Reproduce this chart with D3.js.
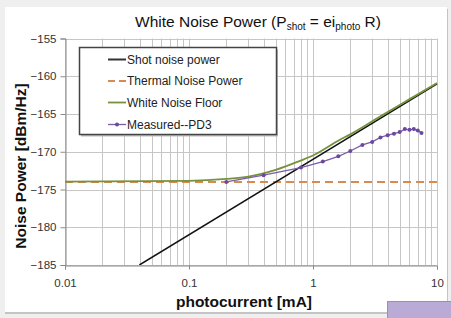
<!DOCTYPE html>
<html>
<head>
<meta charset="utf-8">
<script src="https://cdn.jsdelivr.net/npm/d3@7"></script>
<style>
  body { margin: 0; background: #efefef; }
  svg { display: block; font-family: "Liberation Sans", Arial, sans-serif; }
</style>
</head>
<body>
<svg id="chart" width="451" height="318"></svg>
<script>
// data (current in mA, power in dBm/Hz)
var shotCurrent = [0.0398, 10];
var shotPower = [-185, -161];

var thermalCurrent = [0.01, 10];
var thermalPower = [-174, -174];

var floorCurrent = [0.01, 0.1, 0.2, 0.3, 0.5, 0.786, 1.0, 1.65, 2.0, 3.47, 5, 7, 10];
var floorPower = [-173.95, -173.85, -173.6, -173.3, -172.4, -171.2, -170.5, -168.4, -167.7, -165.35, -163.8, -162.4, -160.9];

var measCurrent = [0.2, 0.4, 0.8, 1.2, 1.6, 2.0, 2.5, 3.0, 3.5, 4.0, 4.5, 5.0, 5.5, 6.0, 6.5, 7.0, 7.5];
var measPower = [-174.0, -173.1, -172.1, -171.3, -170.6, -169.9, -169.1, -168.7, -168.1, -167.8, -167.6, -167.4, -167.0, -167.1, -167.0, -167.2, -167.5];

var yTicks = [-155, -160, -165, -170, -175, -180, -185];
var xTicks = [0.01, 0.1, 1, 10];
var legendNames = ["Shot noise power", "Thermal Noise Power", "White Noise Floor", "Measured--PD3"];

// layout (plot area)
var PLEFT = 65, PRIGHT = 437, PTOP = 38.5, PBOTTOM = 265;
var svg = d3.select("#chart");

// white panel + shadow
svg.append("rect").attr("x", 5).attr("y", 9).attr("width", 443).attr("height", 305).style("fill", "#c4c4c4");
svg.append("rect").attr("x", 5).attr("y", 7).attr("width", 442).attr("height", 305).style("fill", "white");

// purple box at bottom right
svg.append("rect").attr("x", 387.5).attr("y", 301.5).attr("width", 70).attr("height", 30)
  .style("fill", "#b9aad6").style("stroke", "#7b98cf").style("stroke-width", 1);

var x = d3.scaleLog().domain([0.01, 10]).range([PLEFT, PRIGHT]);
var y = d3.scaleLinear().domain([-185, -155]).range([PBOTTOM, PTOP]);

// grid
var minor = [];
[0.01, 0.1, 1].forEach(function(d){
  for (var k = 1; k < 10; k++) minor.push(d * k);
});
minor.push(10);

svg.append("g").selectAll("line").data(minor).enter().append("line")
  .attr("x1", function(d){ return Math.round(x(d)) + 0.5; })
  .attr("x2", function(d){ return Math.round(x(d)) + 0.5; })
  .attr("y1", PTOP).attr("y2", PBOTTOM)
  .style("stroke", "#c6c6c6").style("stroke-width", 1);

svg.append("g").selectAll("line").data(yTicks).enter().append("line")
  .attr("x1", PLEFT).attr("x2", PRIGHT)
  .attr("y1", function(d){ return Math.round(y(d)) + 0.5; })
  .attr("y2", function(d){ return Math.round(y(d)) + 0.5; })
  .style("stroke", "#c6c6c6").style("stroke-width", 1);

// axes
var yAxis = svg.append("g").attr("transform", "translate(" + (PLEFT + 0.5) + ",0)")
  .call(d3.axisLeft(y).tickValues(yTicks).tickSize(5).tickPadding(4).tickFormat(d3.format("d")));
var xAxis = svg.append("g").attr("transform", "translate(0," + (PBOTTOM + 0.5) + ")")
  .call(d3.axisBottom(x).tickValues(xTicks).tickSize(4).tickPadding(9).tickFormat(function(d){ return String(d); }));

[yAxis, xAxis].forEach(function(a){
  a.select(".domain").style("stroke", "#8a8a8a");
  a.selectAll(".tick line").style("stroke", "#8a8a8a");
  a.selectAll("text").style("font-size", "11.5px").style("fill", "#333")
    .style("font-family", "'Liberation Sans', Arial, sans-serif");
});

// clip
svg.append("clipPath").attr("id", "plotclip").append("rect")
  .attr("x", PLEFT).attr("y", PTOP - 2).attr("width", PRIGHT - PLEFT + 2).attr("height", PBOTTOM - PTOP + 2);

var plot = svg.append("g").attr("clip-path", "url(#plotclip)");

function zip(a, b){ return a.map(function(d, i){ return [d, b[i]]; }); }
var line = d3.line().x(function(d){ return x(d[0]); }).y(function(d){ return y(d[1]); });
var curve = d3.line().curve(d3.curveMonotoneX).x(function(d){ return x(d[0]); }).y(function(d){ return y(d[1]); });

plot.append("path").datum(zip(thermalCurrent, thermalPower)).attr("d", line)
  .style("fill", "none").style("stroke", "#d98a4f").style("stroke-width", 2).style("stroke-dasharray", "8,5");

plot.append("path").datum(zip(shotCurrent, shotPower)).attr("d", line)
  .style("fill", "none").style("stroke", "#111").style("stroke-width", 1.5);

plot.append("path").datum(zip(floorCurrent, floorPower)).attr("d", curve)
  .style("fill", "none").style("stroke", "#76923c").style("stroke-width", 1.8);

var meas = zip(measCurrent, measPower);
plot.append("path").datum(meas).attr("d", line)
  .style("fill", "none").style("stroke", "#7a5ca8").style("stroke-width", 1.3);
plot.selectAll(".pt").data(meas).enter().append("circle").attr("class", "pt")
  .attr("cx", function(d){ return x(d[0]); }).attr("cy", function(d){ return y(d[1]); })
  .attr("r", 2).style("fill", "#6a48a0");

// title
var title = svg.append("text").attr("x", 258).attr("y", 27).attr("text-anchor", "middle")
  .style("font-size", "15.5px").style("fill", "#111");
title.append("tspan").text("White Noise Power (P");
title.append("tspan").text("shot").style("font-size", "10px").attr("dy", 3);
title.append("tspan").text(" = ei").attr("dy", -3);
title.append("tspan").text("photo").style("font-size", "10px").attr("dy", 3);
title.append("tspan").text(" R)").attr("dy", -3);

// axis titles
svg.append("text").attr("transform", "translate(26,166) rotate(-90)").attr("text-anchor", "middle")
  .style("font-size", "15.5px").style("font-weight", "bold").style("fill", "#111")
  .text("Noise Power [dBm/Hz]");
svg.append("text").attr("x", 244).attr("y", 307).attr("text-anchor", "middle")
  .style("font-size", "15.5px").style("font-weight", "bold").style("fill", "#111")
  .text("photocurrent [mA]");

// legend
var legend = svg.append("g");
legend.append("rect").attr("x", 81).attr("y", 49.5).attr("width", 197).attr("height", 87).style("fill", "#bbb");
legend.append("rect").attr("x", 79.5).attr("y", 47.5).attr("width", 197).attr("height", 87)
  .style("fill", "white").style("stroke", "#444").style("stroke-width", 1.5);

var rowY = [59.5, 81, 102.5, 124.5];
var rows = legend.selectAll(".row").data(legendNames).enter().append("g")
  .attr("transform", function(d, i){ return "translate(0," + rowY[i] + ")"; });
rows.append("line").attr("x1", 108).attr("x2", 126).attr("y1", 0).attr("y2", 0)
  .style("stroke", function(d, i){ return ["#333", "#d98a4f", "#76923c", "#7a5ca8"][i]; })
  .style("stroke-width", function(d, i){ return [2, 2, 1.8, 1.3][i]; })
  .style("stroke-dasharray", function(d, i){ return i == 1 ? "7,4" : null; });
rows.filter(function(d, i){ return i == 3; }).append("circle")
  .attr("cx", 117).attr("cy", 0).attr("r", 2).style("fill", "#6a48a0");
rows.append("text").attr("x", 127).attr("y", 4.3)
  .style("font-size", "12px").style("fill", "#222").text(function(d){ return d; });
</script>
</body>
</html>
